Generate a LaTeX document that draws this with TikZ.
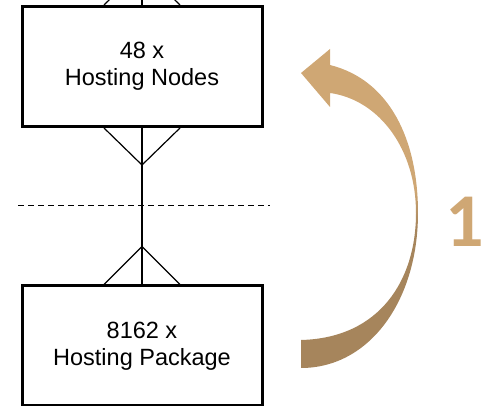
\documentclass[tikz,border=0pt]{standalone}
\usepackage{fontspec}
\setmainfont{Liberation Sans}
\newfontfamily\numfont{Carlito}
\usetikzlibrary{positioning,calc}
\definecolor{tanlight}{RGB}{207,167,116}
\definecolor{tandark}{RGB}{166,133,92}
\pgfdeclareverticalshading{arrowshade}{100bp}{color(0bp)=(tandark); color(47bp)=(tandark); color(53bp)=(tanlight); color(100bp)=(tanlight)}

\begin{document}
\begin{tikzpicture}[x=1pt,y=1pt,node distance=279.5pt,on grid,
   entity/.style={draw,line width=3pt,minimum width=240pt,minimum height=120pt,inner sep=0pt,align=center,font=\fontsize{23.5}{27}\selectfont},
   foot/.style={line width=1.2pt}]
   \clip (0,0) rectangle (485,406);
   \node[entity] (h_nodes) at (142,339.5) {48 x\\Hosting Nodes};
   \node[entity] (h_package) [below =of h_nodes] {8162 x\\Hosting Package};

   % relation with crow's feet
   \draw[foot] (h_nodes.south) -- (h_package.north);
   \draw[foot] ($(h_nodes.south)+(-38,0)$) -- ($(h_nodes.south)+(0,-37)$) -- ($(h_nodes.south)+(38,0)$);
   \draw[foot] ($(h_package.north)+(-38,0)$) -- ($(h_package.north)+(0,38)$) -- ($(h_package.north)+(38,0)$);
   \draw[foot] ($(h_nodes.north)+(-38,0)$) -- ($(h_nodes.north)+(0,37)$) -- ($(h_nodes.north)+(38,0)$);
   \draw[foot] (h_nodes.north) -- ++(0,20);

   \coordinate (split_l) at (18,200);
   \coordinate (split_r) at (270,200);
   \draw[dash pattern=on 6pt off 4pt,line width=1pt] (split_l) -- (split_r);

   % curved arrow
   \shade[shading=arrowshade] (301,66) .. controls (380,68) and (416,126) .. (416,193)
      .. controls (416,256) and (380,306) .. (330,313)
      -- (330,299) -- (301,333) -- (330,357) -- (330,341)
      .. controls (390,326) and (418,266) .. (418,193)
      .. controls (418,106) and (370,38) .. (301,38) -- cycle;
   \node[text=tanlight,font=\numfont\bfseries\fontsize{76}{76}\selectfont,inner sep=0pt] (step_no) at (465,184) {1};
\end{tikzpicture}
\end{document}
